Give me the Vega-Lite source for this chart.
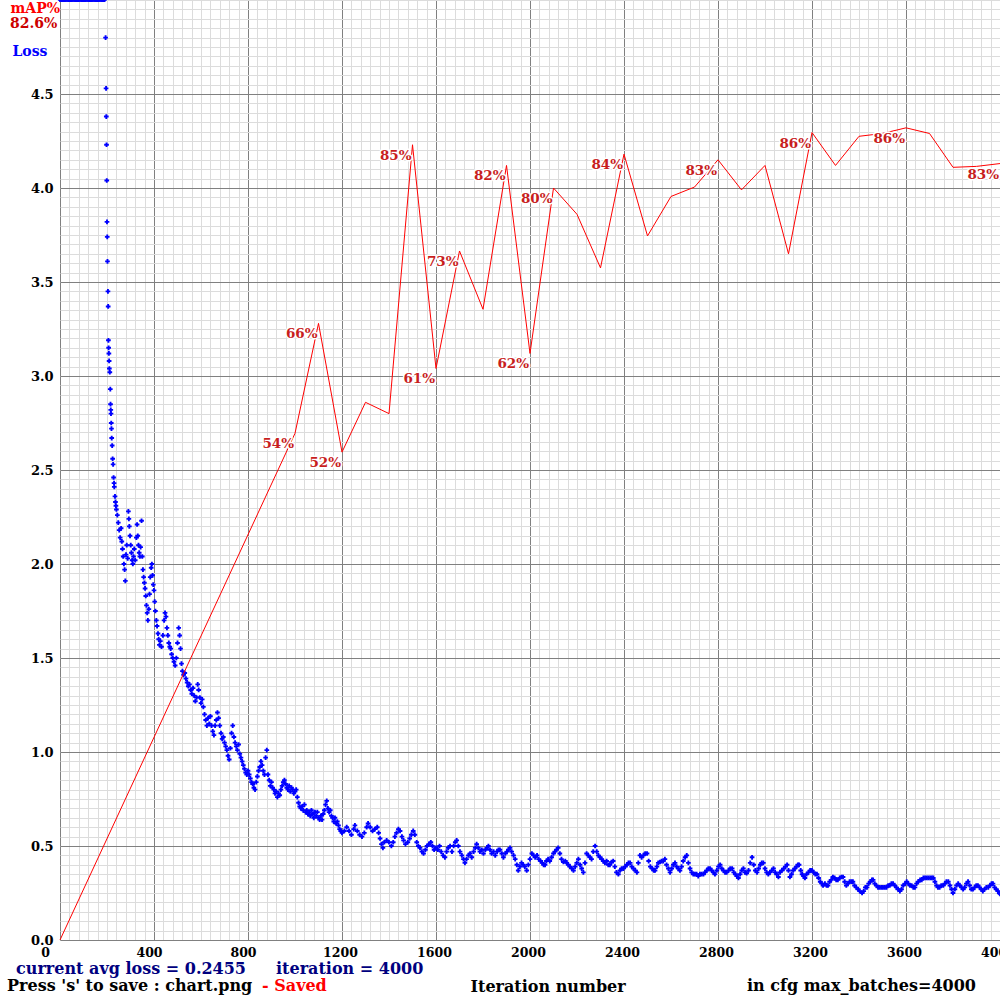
{
"$schema": "https://vega.github.io/schema/vega-lite/v6.json",
"width": 940,
"height": 940,
"autosize": {"type": "none"},
"padding": {"left": 60, "top": 0, "right": 0, "bottom": 60},
"background": "white",
"config": {"view": {"stroke": null}},
"datasets": {
"loss_top": [
{"iter":0,"loss":5.0},{"iter":5,"loss":5.0},{"iter":10,"loss":5.0},{"iter":15,"loss":5.0},{"iter":20,"loss":5.0},{"iter":25,"loss":5.0},{"iter":30,"loss":5.0},{"iter":35,"loss":5.0},{"iter":40,"loss":5.0},{"iter":45,"loss":5.0},{"iter":50,"loss":5.0},{"iter":55,"loss":5.0},{"iter":60,"loss":5.0},{"iter":65,"loss":5.0},{"iter":70,"loss":5.0},{"iter":75,"loss":5.0},{"iter":80,"loss":5.0},{"iter":85,"loss":5.0},{"iter":90,"loss":5.0},{"iter":95,"loss":5.0},{"iter":100,"loss":5.0},{"iter":105,"loss":5.0},{"iter":110,"loss":5.0},{"iter":115,"loss":5.0},{"iter":120,"loss":5.0},{"iter":125,"loss":5.0},{"iter":130,"loss":5.0},{"iter":135,"loss":5.0},{"iter":140,"loss":5.0},{"iter":145,"loss":5.0},{"iter":150,"loss":5.0},{"iter":155,"loss":5.0},{"iter":160,"loss":5.0},{"iter":165,"loss":5.0},{"iter":170,"loss":5.0},{"iter":175,"loss":5.0},{"iter":180,"loss":5.0},{"iter":185,"loss":5.0},{"iter":190,"loss":5.0}
],
"loss": [
{"iter":194,"loss":4.80},{"iter":196,"loss":4.53},{"iter":197,"loss":4.38},{"iter":198,"loss":4.23},{"iter":199,"loss":4.04},{"iter":200,"loss":3.82},{"iter":201,"loss":3.74},{"iter":202,"loss":3.61},{"iter":204,"loss":3.45},{"iter":205,"loss":3.37},{"iter":206,"loss":3.19},{"iter":207,"loss":3.15},{"iter":208,"loss":3.12},{"iter":209,"loss":3.08},{"iter":210,"loss":3.04},{"iter":212,"loss":3.02},{"iter":214,"loss":2.93},{"iter":215,"loss":2.85},{"iter":216,"loss":2.82},{"iter":217,"loss":2.80},{"iter":218,"loss":2.75},{"iter":219,"loss":2.72},{"iter":220,"loss":2.67},{"iter":222,"loss":2.63},{"iter":224,"loss":2.56},{"iter":226,"loss":2.53},{"iter":228,"loss":2.46},{"iter":230,"loss":2.43},{"iter":231,"loss":2.41},{"iter":234,"loss":2.36},{"iter":236,"loss":2.33},{"iter":238,"loss":2.31},{"iter":240,"loss":2.29},{"iter":244,"loss":2.26},{"iter":248,"loss":2.22},{"iter":252,"loss":2.18},{"iter":256,"loss":2.14},{"iter":260,"loss":2.19},{"iter":263,"loss":2.12},{"iter":266,"loss":2.08},{"iter":269,"loss":2.04},{"iter":272,"loss":2.00},{"iter":275,"loss":1.97},{"iter":278,"loss":1.91},{"iter":281,"loss":2.05},{"iter":284,"loss":2.10},{"iter":288,"loss":2.03},{"iter":291,"loss":2.28},{"iter":293,"loss":2.24},{"iter":295,"loss":2.20},{"iter":298,"loss":2.15},{"iter":301,"loss":2.10},{"iter":304,"loss":2.06},{"iter":307,"loss":2.02},{"iter":310,"loss":2.00},{"iter":313,"loss":2.04},{"iter":316,"loss":2.08},{"iter":320,"loss":2.02},{"iter":325,"loss":2.14},{"iter":328,"loss":2.21},{"iter":331,"loss":2.15},{"iter":334,"loss":2.10},{"iter":337,"loss":2.06},{"iter":340,"loss":2.04},{"iter":343,"loss":2.09},{"iter":347,"loss":2.23},{"iter":350,"loss":2.04},{"iter":353,"loss":1.97},{"iter":356,"loss":1.93},{"iter":359,"loss":1.90},{"iter":362,"loss":1.87},{"iter":365,"loss":1.83},{"iter":368,"loss":1.78},{"iter":371,"loss":1.74},{"iter":374,"loss":1.70},{"iter":378,"loss":1.76},{"iter":381,"loss":1.84},{"iter":384,"loss":1.93},{"iter":388,"loss":1.98},{"iter":391,"loss":2.00},{"iter":394,"loss":1.94},{"iter":397,"loss":1.89},{"iter":400,"loss":1.86},{"iter":403,"loss":1.80},{"iter":406,"loss":1.75},{"iter":410,"loss":1.70},{"iter":413,"loss":1.67},{"iter":417,"loss":1.63},{"iter":420,"loss":1.60},{"iter":423,"loss":1.57},{"iter":427,"loss":1.59},{"iter":432,"loss":1.56},{"iter":438,"loss":1.62},{"iter":443,"loss":1.70},{"iter":447,"loss":1.74},{"iter":451,"loss":1.72},{"iter":455,"loss":1.66},{"iter":459,"loss":1.62},{"iter":463,"loss":1.58},{"iter":467,"loss":1.56},{"iter":471,"loss":1.55},{"iter":475,"loss":1.52},{"iter":480,"loss":1.50},{"iter":485,"loss":1.48},{"iter":490,"loss":1.46},{"iter":495,"loss":1.50},{"iter":500,"loss":1.58},{"iter":505,"loss":1.66},{"iter":509,"loss":1.62},{"iter":513,"loss":1.55},{"iter":517,"loss":1.47},{"iter":521,"loss":1.43},{"iter":526,"loss":1.41},{"iter":531,"loss":1.42},{"iter":536,"loss":1.39},{"iter":541,"loss":1.37},{"iter":546,"loss":1.35},{"iter":551,"loss":1.36},{"iter":556,"loss":1.33},{"iter":561,"loss":1.31},{"iter":566,"loss":1.34},{"iter":571,"loss":1.30},{"iter":576,"loss":1.27},{"iter":581,"loss":1.29},{"iter":586,"loss":1.36},{"iter":590,"loss":1.33},{"iter":595,"loss":1.29},{"iter":600,"loss":1.26},{"iter":605,"loss":1.28},{"iter":610,"loss":1.24},{"iter":615,"loss":1.20},{"iter":620,"loss":1.17},{"iter":625,"loss":1.14},{"iter":630,"loss":1.18},{"iter":635,"loss":1.15},{"iter":640,"loss":1.19},{"iter":645,"loss":1.14},{"iter":650,"loss":1.11},{"iter":655,"loss":1.09},{"iter":660,"loss":1.14},{"iter":665,"loss":1.17},{"iter":670,"loss":1.21},{"iter":675,"loss":1.18},{"iter":680,"loss":1.14},{"iter":685,"loss":1.10},{"iter":690,"loss":1.07},{"iter":695,"loss":1.08},{"iter":700,"loss":1.05},{"iter":705,"loss":1.03},{"iter":710,"loss":1.01},{"iter":715,"loss":0.98},{"iter":720,"loss":0.96},{"iter":725,"loss":1.02},{"iter":730,"loss":1.10},{"iter":735,"loss":1.14},{"iter":740,"loss":1.08},{"iter":745,"loss":1.05},{"iter":750,"loss":1.03},{"iter":755,"loss":1.01},{"iter":760,"loss":1.04},{"iter":765,"loss":0.99},{"iter":770,"loss":0.97},{"iter":775,"loss":0.95},{"iter":780,"loss":0.93},{"iter":785,"loss":0.91},{"iter":790,"loss":0.89},{"iter":795,"loss":0.88},{"iter":800,"loss":0.90},{"iter":805,"loss":0.88},{"iter":810,"loss":0.86},{"iter":815,"loss":0.84},{"iter":820,"loss":0.83},{"iter":825,"loss":0.81},{"iter":830,"loss":0.80},{"iter":835,"loss":0.84},{"iter":840,"loss":0.87},{"iter":845,"loss":0.90},{"iter":850,"loss":0.92},{"iter":855,"loss":0.95},{"iter":860,"loss":0.93},{"iter":865,"loss":0.90},{"iter":870,"loss":0.88},{"iter":875,"loss":0.97},{"iter":880,"loss":1.01},{"iter":885,"loss":0.88},{"iter":890,"loss":0.85},{"iter":895,"loss":0.82},{"iter":900,"loss":0.84},{"iter":905,"loss":0.81},{"iter":910,"loss":0.80},{"iter":915,"loss":0.78},{"iter":920,"loss":0.79},{"iter":925,"loss":0.76},{"iter":930,"loss":0.78},{"iter":935,"loss":0.77},{"iter":940,"loss":0.80},{"iter":945,"loss":0.82},{"iter":950,"loss":0.84},{"iter":955,"loss":0.85},{"iter":960,"loss":0.83},{"iter":965,"loss":0.81},{"iter":970,"loss":0.80},{"iter":975,"loss":0.82},{"iter":980,"loss":0.79},{"iter":985,"loss":0.81},{"iter":990,"loss":0.80},{"iter":995,"loss":0.78},{"iter":1000,"loss":0.79},{"iter":1005,"loss":0.80},{"iter":1010,"loss":0.76},{"iter":1015,"loss":0.73},{"iter":1020,"loss":0.71},{"iter":1025,"loss":0.70},{"iter":1030,"loss":0.71},{"iter":1035,"loss":0.69},{"iter":1040,"loss":0.72},{"iter":1045,"loss":0.68},{"iter":1050,"loss":0.69},{"iter":1055,"loss":0.67},{"iter":1060,"loss":0.68},{"iter":1065,"loss":0.66},{"iter":1070,"loss":0.69},{"iter":1075,"loss":0.67},{"iter":1080,"loss":0.65},{"iter":1085,"loss":0.68},{"iter":1090,"loss":0.66},{"iter":1095,"loss":0.68},{"iter":1100,"loss":0.65},{"iter":1105,"loss":0.64},{"iter":1110,"loss":0.66},{"iter":1115,"loss":0.64},{"iter":1120,"loss":0.67},{"iter":1125,"loss":0.69},{"iter":1130,"loss":0.72},{"iter":1135,"loss":0.74},{"iter":1140,"loss":0.70},{"iter":1145,"loss":0.68},{"iter":1150,"loss":0.69},{"iter":1155,"loss":0.66},{"iter":1160,"loss":0.65},{"iter":1165,"loss":0.63},{"iter":1170,"loss":0.65},{"iter":1175,"loss":0.62},{"iter":1180,"loss":0.63},{"iter":1185,"loss":0.61},{"iter":1190,"loss":0.59},{"iter":1195,"loss":0.58},{"iter":1200,"loss":0.57},{"iter":1210,"loss":0.58},{"iter":1220,"loss":0.60},{"iter":1230,"loss":0.58},{"iter":1240,"loss":0.56},{"iter":1250,"loss":0.59},{"iter":1255,"loss":0.61},{"iter":1265,"loss":0.58},{"iter":1275,"loss":0.56},{"iter":1285,"loss":0.55},{"iter":1295,"loss":0.57},{"iter":1305,"loss":0.60},{"iter":1311,"loss":0.62},{"iter":1320,"loss":0.60},{"iter":1330,"loss":0.58},{"iter":1340,"loss":0.59},{"iter":1350,"loss":0.60},{"iter":1356,"loss":0.57},{"iter":1362,"loss":0.54},{"iter":1368,"loss":0.51},{"iter":1374,"loss":0.49},{"iter":1380,"loss":0.52},{"iter":1390,"loss":0.53},{"iter":1400,"loss":0.52},{"iter":1410,"loss":0.50},{"iter":1418,"loss":0.52},{"iter":1425,"loss":0.55},{"iter":1432,"loss":0.57},{"iter":1440,"loss":0.59},{"iter":1447,"loss":0.58},{"iter":1455,"loss":0.55},{"iter":1462,"loss":0.53},{"iter":1470,"loss":0.51},{"iter":1480,"loss":0.52},{"iter":1488,"loss":0.54},{"iter":1495,"loss":0.56},{"iter":1503,"loss":0.58},{"iter":1510,"loss":0.56},{"iter":1518,"loss":0.52},{"iter":1525,"loss":0.50},{"iter":1532,"loss":0.49},{"iter":1540,"loss":0.47},{"iter":1547,"loss":0.46},{"iter":1555,"loss":0.48},{"iter":1562,"loss":0.50},{"iter":1570,"loss":0.51},{"iter":1578,"loss":0.52},{"iter":1585,"loss":0.50},{"iter":1592,"loss":0.48},{"iter":1600,"loss":0.49},{"iter":1608,"loss":0.48},{"iter":1615,"loss":0.50},{"iter":1622,"loss":0.47},{"iter":1630,"loss":0.45},{"iter":1638,"loss":0.44},{"iter":1645,"loss":0.47},{"iter":1652,"loss":0.49},{"iter":1660,"loss":0.50},{"iter":1668,"loss":0.47},{"iter":1675,"loss":0.50},{"iter":1682,"loss":0.52},{"iter":1688,"loss":0.53},{"iter":1695,"loss":0.50},{"iter":1702,"loss":0.47},{"iter":1710,"loss":0.45},{"iter":1717,"loss":0.43},{"iter":1723,"loss":0.41},{"iter":1730,"loss":0.43},{"iter":1738,"loss":0.45},{"iter":1745,"loss":0.46},{"iter":1752,"loss":0.44},{"iter":1760,"loss":0.47},{"iter":1767,"loss":0.49},{"iter":1773,"loss":0.51},{"iter":1780,"loss":0.49},{"iter":1787,"loss":0.47},{"iter":1795,"loss":0.48},{"iter":1802,"loss":0.46},{"iter":1810,"loss":0.48},{"iter":1817,"loss":0.49},{"iter":1823,"loss":0.50},{"iter":1830,"loss":0.48},{"iter":1837,"loss":0.46},{"iter":1845,"loss":0.47},{"iter":1852,"loss":0.45},{"iter":1860,"loss":0.47},{"iter":1866,"loss":0.48},{"iter":1872,"loss":0.48},{"iter":1880,"loss":0.46},{"iter":1887,"loss":0.44},{"iter":1895,"loss":0.46},{"iter":1902,"loss":0.47},{"iter":1908,"loss":0.48},{"iter":1915,"loss":0.49},{"iter":1922,"loss":0.47},{"iter":1930,"loss":0.45},{"iter":1937,"loss":0.43},{"iter":1944,"loss":0.40},{"iter":1950,"loss":0.37},{"iter":1957,"loss":0.39},{"iter":1964,"loss":0.41},{"iter":1971,"loss":0.40},{"iter":1978,"loss":0.39},{"iter":1986,"loss":0.37},{"iter":1993,"loss":0.40},{"iter":2000,"loss":0.43},{"iter":2008,"loss":0.46},{"iter":2015,"loss":0.45},{"iter":2022,"loss":0.44},{"iter":2030,"loss":0.45},{"iter":2037,"loss":0.43},{"iter":2045,"loss":0.42},{"iter":2052,"loss":0.41},{"iter":2058,"loss":0.40},{"iter":2064,"loss":0.40},{"iter":2070,"loss":0.42},{"iter":2077,"loss":0.43},{"iter":2084,"loss":0.42},{"iter":2092,"loss":0.44},{"iter":2100,"loss":0.46},{"iter":2106,"loss":0.47},{"iter":2113,"loss":0.48},{"iter":2120,"loss":0.49},{"iter":2127,"loss":0.46},{"iter":2134,"loss":0.43},{"iter":2142,"loss":0.415},{"iter":2150,"loss":0.42},{"iter":2156,"loss":0.41},{"iter":2163,"loss":0.40},{"iter":2170,"loss":0.39},{"iter":2178,"loss":0.38},{"iter":2185,"loss":0.37},{"iter":2192,"loss":0.39},{"iter":2199,"loss":0.41},{"iter":2206,"loss":0.43},{"iter":2213,"loss":0.40},{"iter":2220,"loss":0.38},{"iter":2227,"loss":0.36},{"iter":2234,"loss":0.41},{"iter":2241,"loss":0.46},{"iter":2248,"loss":0.45},{"iter":2255,"loss":0.44},{"iter":2262,"loss":0.43},{"iter":2269,"loss":0.47},{"iter":2277,"loss":0.50},{"iter":2284,"loss":0.47},{"iter":2291,"loss":0.45},{"iter":2298,"loss":0.44},{"iter":2305,"loss":0.43},{"iter":2312,"loss":0.42},{"iter":2319,"loss":0.41},{"iter":2326,"loss":0.42},{"iter":2333,"loss":0.40},{"iter":2340,"loss":0.40},{"iter":2347,"loss":0.415},{"iter":2354,"loss":0.42},{"iter":2361,"loss":0.39},{"iter":2368,"loss":0.36},{"iter":2376,"loss":0.35},{"iter":2383,"loss":0.37},{"iter":2390,"loss":0.38},{"iter":2397,"loss":0.38},{"iter":2405,"loss":0.39},{"iter":2412,"loss":0.40},{"iter":2419,"loss":0.41},{"iter":2426,"loss":0.41},{"iter":2433,"loss":0.39},{"iter":2440,"loss":0.38},{"iter":2448,"loss":0.37},{"iter":2455,"loss":0.36},{"iter":2461,"loss":0.41},{"iter":2468,"loss":0.45},{"iter":2475,"loss":0.44},{"iter":2483,"loss":0.45},{"iter":2490,"loss":0.46},{"iter":2498,"loss":0.46},{"iter":2505,"loss":0.42},{"iter":2512,"loss":0.39},{"iter":2520,"loss":0.38},{"iter":2527,"loss":0.37},{"iter":2532,"loss":0.37},{"iter":2540,"loss":0.39},{"iter":2546,"loss":0.41},{"iter":2553,"loss":0.415},{"iter":2560,"loss":0.42},{"iter":2567,"loss":0.42},{"iter":2574,"loss":0.43},{"iter":2581,"loss":0.40},{"iter":2589,"loss":0.38},{"iter":2596,"loss":0.36},{"iter":2603,"loss":0.38},{"iter":2610,"loss":0.40},{"iter":2617,"loss":0.41},{"iter":2624,"loss":0.39},{"iter":2631,"loss":0.38},{"iter":2638,"loss":0.37},{"iter":2645,"loss":0.39},{"iter":2652,"loss":0.42},{"iter":2660,"loss":0.44},{"iter":2667,"loss":0.45},{"iter":2674,"loss":0.41},{"iter":2681,"loss":0.38},{"iter":2688,"loss":0.36},{"iter":2695,"loss":0.35},{"iter":2702,"loss":0.35},{"iter":2709,"loss":0.35},{"iter":2716,"loss":0.34},{"iter":2723,"loss":0.35},{"iter":2730,"loss":0.35},{"iter":2738,"loss":0.35},{"iter":2745,"loss":0.36},{"iter":2752,"loss":0.37},{"iter":2759,"loss":0.38},{"iter":2766,"loss":0.38},{"iter":2773,"loss":0.37},{"iter":2780,"loss":0.36},{"iter":2787,"loss":0.35},{"iter":2795,"loss":0.37},{"iter":2802,"loss":0.39},{"iter":2809,"loss":0.40},{"iter":2816,"loss":0.38},{"iter":2823,"loss":0.37},{"iter":2830,"loss":0.36},{"iter":2837,"loss":0.36},{"iter":2845,"loss":0.37},{"iter":2852,"loss":0.38},{"iter":2860,"loss":0.38},{"iter":2867,"loss":0.36},{"iter":2874,"loss":0.35},{"iter":2880,"loss":0.34},{"iter":2887,"loss":0.33},{"iter":2894,"loss":0.35},{"iter":2901,"loss":0.37},{"iter":2908,"loss":0.38},{"iter":2915,"loss":0.36},{"iter":2922,"loss":0.355},{"iter":2930,"loss":0.37},{"iter":2937,"loss":0.41},{"iter":2945,"loss":0.44},{"iter":2952,"loss":0.40},{"iter":2959,"loss":0.37},{"iter":2966,"loss":0.36},{"iter":2973,"loss":0.38},{"iter":2980,"loss":0.40},{"iter":2986,"loss":0.41},{"iter":2993,"loss":0.41},{"iter":3000,"loss":0.38},{"iter":3007,"loss":0.36},{"iter":3014,"loss":0.35},{"iter":3021,"loss":0.36},{"iter":3029,"loss":0.37},{"iter":3036,"loss":0.38},{"iter":3043,"loss":0.36},{"iter":3050,"loss":0.35},{"iter":3057,"loss":0.335},{"iter":3064,"loss":0.36},{"iter":3072,"loss":0.37},{"iter":3080,"loss":0.38},{"iter":3087,"loss":0.39},{"iter":3094,"loss":0.40},{"iter":3100,"loss":0.37},{"iter":3106,"loss":0.335},{"iter":3113,"loss":0.35},{"iter":3120,"loss":0.37},{"iter":3127,"loss":0.38},{"iter":3134,"loss":0.39},{"iter":3140,"loss":0.40},{"iter":3145,"loss":0.40},{"iter":3152,"loss":0.37},{"iter":3158,"loss":0.35},{"iter":3164,"loss":0.34},{"iter":3170,"loss":0.33},{"iter":3177,"loss":0.35},{"iter":3185,"loss":0.36},{"iter":3192,"loss":0.37},{"iter":3200,"loss":0.37},{"iter":3207,"loss":0.36},{"iter":3214,"loss":0.35},{"iter":3221,"loss":0.35},{"iter":3228,"loss":0.33},{"iter":3235,"loss":0.31},{"iter":3242,"loss":0.30},{"iter":3247,"loss":0.29},{"iter":3255,"loss":0.30},{"iter":3262,"loss":0.29},{"iter":3268,"loss":0.29},{"iter":3275,"loss":0.31},{"iter":3282,"loss":0.32},{"iter":3289,"loss":0.335},{"iter":3296,"loss":0.33},{"iter":3303,"loss":0.32},{"iter":3310,"loss":0.32},{"iter":3318,"loss":0.33},{"iter":3325,"loss":0.335},{"iter":3332,"loss":0.335},{"iter":3339,"loss":0.31},{"iter":3346,"loss":0.29},{"iter":3353,"loss":0.30},{"iter":3360,"loss":0.31},{"iter":3367,"loss":0.31},{"iter":3374,"loss":0.31},{"iter":3381,"loss":0.29},{"iter":3388,"loss":0.28},{"iter":3396,"loss":0.27},{"iter":3403,"loss":0.26},{"iter":3413,"loss":0.25},{"iter":3420,"loss":0.26},{"iter":3427,"loss":0.28},{"iter":3434,"loss":0.28},{"iter":3441,"loss":0.30},{"iter":3448,"loss":0.31},{"iter":3455,"loss":0.32},{"iter":3460,"loss":0.32},{"iter":3467,"loss":0.30},{"iter":3474,"loss":0.29},{"iter":3481,"loss":0.28},{"iter":3488,"loss":0.28},{"iter":3495,"loss":0.28},{"iter":3502,"loss":0.28},{"iter":3510,"loss":0.28},{"iter":3517,"loss":0.28},{"iter":3524,"loss":0.29},{"iter":3531,"loss":0.29},{"iter":3538,"loss":0.30},{"iter":3545,"loss":0.30},{"iter":3552,"loss":0.29},{"iter":3559,"loss":0.28},{"iter":3566,"loss":0.27},{"iter":3574,"loss":0.26},{"iter":3581,"loss":0.27},{"iter":3588,"loss":0.29},{"iter":3596,"loss":0.30},{"iter":3603,"loss":0.31},{"iter":3610,"loss":0.30},{"iter":3617,"loss":0.29},{"iter":3624,"loss":0.29},{"iter":3631,"loss":0.28},{"iter":3638,"loss":0.28},{"iter":3645,"loss":0.30},{"iter":3652,"loss":0.31},{"iter":3660,"loss":0.32},{"iter":3667,"loss":0.32},{"iter":3674,"loss":0.33},{"iter":3681,"loss":0.33},{"iter":3689,"loss":0.33},{"iter":3696,"loss":0.33},{"iter":3703,"loss":0.33},{"iter":3710,"loss":0.33},{"iter":3716,"loss":0.33},{"iter":3723,"loss":0.31},{"iter":3730,"loss":0.29},{"iter":3736,"loss":0.28},{"iter":3743,"loss":0.28},{"iter":3750,"loss":0.29},{"iter":3758,"loss":0.29},{"iter":3765,"loss":0.30},{"iter":3772,"loss":0.31},{"iter":3780,"loss":0.31},{"iter":3787,"loss":0.29},{"iter":3794,"loss":0.27},{"iter":3800,"loss":0.25},{"iter":3808,"loss":0.27},{"iter":3815,"loss":0.29},{"iter":3822,"loss":0.30},{"iter":3829,"loss":0.29},{"iter":3836,"loss":0.28},{"iter":3843,"loss":0.27},{"iter":3850,"loss":0.28},{"iter":3857,"loss":0.30},{"iter":3864,"loss":0.31},{"iter":3871,"loss":0.29},{"iter":3878,"loss":0.27},{"iter":3885,"loss":0.27},{"iter":3892,"loss":0.28},{"iter":3899,"loss":0.29},{"iter":3906,"loss":0.29},{"iter":3913,"loss":0.28},{"iter":3920,"loss":0.27},{"iter":3927,"loss":0.26},{"iter":3934,"loss":0.27},{"iter":3942,"loss":0.28},{"iter":3950,"loss":0.28},{"iter":3957,"loss":0.29},{"iter":3964,"loss":0.30},{"iter":3970,"loss":0.30},{"iter":3977,"loss":0.28},{"iter":3984,"loss":0.27},{"iter":3991,"loss":0.26},{"iter":3997,"loss":0.25},{"iter":4000,"loss":0.2455}
],
"map": [
{"iter":0,"map":0},
{"iter":1000,"map":53.9,"label":"54%"},
{"iter":1100,"map":65.6,"label":"66%"},
{"iter":1200,"map":51.9,"label":"52%"},
{"iter":1300,"map":57.2},
{"iter":1400,"map":56.0},
{"iter":1500,"map":84.6,"label":"85%"},
{"iter":1600,"map":60.8,"label":"61%"},
{"iter":1700,"map":73.3,"label":"73%"},
{"iter":1800,"map":67.1},
{"iter":1900,"map":82.4,"label":"82%"},
{"iter":2000,"map":62.4,"label":"62%"},
{"iter":2100,"map":80.0,"label":"80%"},
{"iter":2200,"map":77.2},
{"iter":2300,"map":71.5},
{"iter":2400,"map":83.6,"label":"84%"},
{"iter":2500,"map":74.9},
{"iter":2600,"map":79.1},
{"iter":2700,"map":80.1},
{"iter":2800,"map":83.0,"label":"83%"},
{"iter":2900,"map":79.8},
{"iter":3000,"map":82.4},
{"iter":3100,"map":73.0},
{"iter":3200,"map":85.9,"label":"86%"},
{"iter":3300,"map":82.4},
{"iter":3400,"map":85.5},
{"iter":3500,"map":85.8},
{"iter":3600,"map":86.4,"label":"86%"},
{"iter":3700,"map":85.8},
{"iter":3800,"map":82.2},
{"iter":3900,"map":82.3},
{"iter":4000,"map":82.6,"label":"83%"}
]
},
"resolve": {"scale": {"y": "independent"}, "axis": {"x": "independent", "y": "independent"}},
"layer": [
{
"data": {"name": "loss_top"},
"mark": {"type": "point", "shape": "cross", "filled": true, "size": 18, "color": "#0000ff", "opacity": 1},
"encoding": {
"x": {"field": "iter", "type": "quantitative", "scale": {"domain": [0, 4000], "nice": false, "zero": false},
"axis": {"orient": "top", "values": [0,40,80,120,160,200,240,280,320,360,400,440,480,520,560,600,640,680,720,760,800,840,880,920,960,1000,1040,1080,1120,1160,1200,1240,1280,1320,1360,1400,1440,1480,1520,1560,1600,1640,1680,1720,1760,1800,1840,1880,1920,1960,2000,2040,2080,2120,2160,2200,2240,2280,2320,2360,2400,2440,2480,2520,2560,2600,2640,2680,2720,2760,2800,2840,2880,2920,2960,3000,3040,3080,3120,3160,3200,3240,3280,3320,3360,3400,3440,3480,3520,3560,3600,3640,3680,3720,3760,3800,3840,3880,3920,3960,4000], "labels": false, "ticks": false, "domain": false, "grid": true, "gridColor": "#dcdcdc", "gridWidth": 1, "title": null}},
"y": {"field": "loss", "type": "quantitative", "scale": {"domain": [0, 5], "nice": false, "zero": false},
"axis": {"orient": "right", "values": [0,0.05,0.1,0.15,0.2,0.25,0.3,0.35,0.4,0.45,0.5,0.55,0.6,0.65,0.7,0.75,0.8,0.85,0.9,0.95,1,1.05,1.1,1.15,1.2,1.25,1.3,1.35,1.4,1.45,1.5,1.55,1.6,1.65,1.7,1.75,1.8,1.85,1.9,1.95,2,2.05,2.1,2.15,2.2,2.25,2.3,2.35,2.4,2.45,2.5,2.55,2.6,2.65,2.7,2.75,2.8,2.85,2.9,2.95,3,3.05,3.1,3.15,3.2,3.25,3.3,3.35,3.4,3.45,3.5,3.55,3.6,3.65,3.7,3.75,3.8,3.85,3.9,3.95,4,4.05,4.1,4.15,4.2,4.25,4.3,4.35,4.4,4.45,4.5,4.55,4.6,4.65,4.7,4.75,4.8,4.85,4.9,4.95,5], "labels": false, "ticks": false, "domain": false, "grid": true, "gridColor": "#dcdcdc", "gridWidth": 1, "title": null}}
}
},
{
"data": {"name": "loss"},
"mark": {"type": "point", "shape": "cross", "filled": true, "size": 22, "color": "#0000ff", "opacity": 1},
"encoding": {
"x": {"field": "iter", "type": "quantitative", "scale": {"domain": [0, 4000], "nice": false, "zero": false}, "axis": null},
"y": {"field": "loss", "type": "quantitative", "scale": {"domain": [0, 5], "nice": false, "zero": false},
"axis": {"orient": "left", "values": [0,0.5,1,1.5,2,2.5,3,3.5,4,4.5], "format": ".1f", "grid": true, "gridColor": "#808080", "gridWidth": 1, "domain": false, "ticks": false, "labelPadding": 7, "labelFont": "DejaVu Serif", "labelFontWeight": "bold", "labelFontSize": 13, "labelColor": "#000000", "labelOverlap": false, "labelFlush": false, "labelBound": false,
"title": "Loss", "titleColor": "#0000ff", "titleFont": "DejaVu Serif", "titleFontWeight": "bold", "titleFontSize": 14, "titleAngle": 0, "titleAlign": "left", "titleBaseline": "middle", "titleX": -48, "titleY": 51}}
}
},
{
"data": {"name": "map"},
"mark": {"type": "line", "color": "#ff0000", "strokeWidth": 1},
"encoding": {
"x": {"field": "iter", "type": "quantitative", "scale": {"domain": [0, 4000], "nice": false, "zero": false},
"axis": {"orient": "bottom", "values": [0,400,800,1200,1600,2000,2400,2800,3200,3600,4000], "format": "d", "grid": true, "gridColor": "#808080", "gridWidth": 1, "domain": false, "ticks": false, "labelFont": "DejaVu Serif", "labelFontWeight": "bold", "labelFontSize": 12.5, "labelColor": "#000000", "labelPadding": 6, "labelOffset": {"expr": "datum.value == 0 ? -15 : (datum.value < 1000 ? -5 : -2)"}, "labelOverlap": false, "labelFlush": false, "labelBound": false,
"title": "Iteration number", "titleX": 410, "titleY": 46, "titleAlign": "left", "titleBaseline": "middle", "titleFont": "DejaVu Serif", "titleFontWeight": "bold", "titleFontSize": 16, "titleColor": "#000000"}},
"y": {"field": "map", "type": "quantitative", "scale": {"domain": [0, 100], "nice": false, "zero": false},
"axis": {"orient": "right", "grid": false, "labels": false, "ticks": false, "domain": false, "title": "mAP%", "titleColor": "#ff0000", "titleFont": "DejaVu Serif", "titleFontWeight": "bold", "titleFontSize": 14, "titleAngle": 0, "titleAlign": "left", "titleBaseline": "middle", "titleX": -990, "titleY": 8}}
}
},
{
"data": {"name": "map"},
"transform": [{"filter": "isValid(datum.label)"}],
"mark": {"type": "text", "align": "right", "baseline": "middle", "dx": -1, "dy": 11, "font": "DejaVu Serif", "fontWeight": "bold", "fontSize": 13.5, "fill": "#ffffff", "stroke": "#ffffff", "strokeWidth": 3, "strokeJoin": "round"},
"encoding": {
"x": {"field": "iter", "type": "quantitative", "scale": {"domain": [0, 4000], "nice": false, "zero": false}, "axis": null},
"y": {"field": "map", "type": "quantitative", "scale": {"domain": [0, 100], "nice": false, "zero": false}, "axis": null},
"text": {"field": "label"}
}
},
{
"data": {"name": "map"},
"transform": [{"filter": "isValid(datum.label)"}],
"mark": {"type": "text", "align": "right", "baseline": "middle", "dx": -1, "dy": 11, "font": "DejaVu Serif", "fontWeight": "bold", "fontSize": 13.5, "color": "#c81e1e"},
"encoding": {
"x": {"field": "iter", "type": "quantitative", "scale": {"domain": [0, 4000], "nice": false, "zero": false}, "axis": null},
"y": {"field": "map", "type": "quantitative", "scale": {"domain": [0, 100], "nice": false, "zero": false}, "axis": null},
"text": {"field": "label"}
}
},
{
"data": {"values": [{}]},
"mark": {"type": "text", "text": "82.6%", "align": "left", "baseline": "middle", "font": "DejaVu Serif", "fontWeight": "bold", "fontSize": 14, "color": "#cc0000"},
"encoding": {
"x": {"datum": -212.8, "type": "quantitative", "scale": {"domain": [0, 4000], "nice": false, "zero": false}, "axis": null},
"y": {"datum": 4.875, "type": "quantitative", "scale": {"domain": [0, 5], "nice": false, "zero": false}, "axis": null}
}
},
{
"data": {"values": [{}]},
"mark": {"type": "text", "text": "current avg loss = 0.2455", "align": "left", "baseline": "middle", "font": "DejaVu Serif", "fontWeight": "bold", "fontSize": 16, "color": "#000080"},
"encoding": {
"x": {"datum": -187.2, "type": "quantitative", "scale": {"domain": [0, 4000], "nice": false, "zero": false}, "axis": null},
"y": {"datum": -0.154, "type": "quantitative", "scale": {"domain": [0, 5], "nice": false, "zero": false}, "axis": null}
}
},
{
"data": {"values": [{}]},
"mark": {"type": "text", "text": "iteration = 4000", "align": "left", "baseline": "middle", "font": "DejaVu Serif", "fontWeight": "bold", "fontSize": 16, "color": "#000080"},
"encoding": {
"x": {"datum": 919.1, "type": "quantitative", "scale": {"domain": [0, 4000], "nice": false, "zero": false}, "axis": null},
"y": {"datum": -0.154, "type": "quantitative", "scale": {"domain": [0, 5], "nice": false, "zero": false}, "axis": null}
}
},
{
"data": {"values": [{}]},
"mark": {"type": "text", "text": "Press 's' to save : chart.png", "align": "left", "baseline": "middle", "font": "DejaVu Serif", "fontWeight": "bold", "fontSize": 16, "color": "#000000"},
"encoding": {
"x": {"datum": -225.5, "type": "quantitative", "scale": {"domain": [0, 4000], "nice": false, "zero": false}, "axis": null},
"y": {"datum": -0.245, "type": "quantitative", "scale": {"domain": [0, 5], "nice": false, "zero": false}, "axis": null}
}
},
{
"data": {"values": [{}]},
"mark": {"type": "text", "text": "- Saved", "align": "left", "baseline": "middle", "font": "DejaVu Serif", "fontWeight": "bold", "fontSize": 16, "color": "#ff0000"},
"encoding": {
"x": {"datum": 859.6, "type": "quantitative", "scale": {"domain": [0, 4000], "nice": false, "zero": false}, "axis": null},
"y": {"datum": -0.245, "type": "quantitative", "scale": {"domain": [0, 5], "nice": false, "zero": false}, "axis": null}
}
},
{
"data": {"values": [{}]},
"mark": {"type": "text", "text": "in cfg max_batches=4000", "align": "left", "baseline": "middle", "font": "DejaVu Serif", "fontWeight": "bold", "fontSize": 16, "color": "#000000"},
"encoding": {
"x": {"datum": 2923.4, "type": "quantitative", "scale": {"domain": [0, 4000], "nice": false, "zero": false}, "axis": null},
"y": {"datum": -0.245, "type": "quantitative", "scale": {"domain": [0, 5], "nice": false, "zero": false}, "axis": null}
}
}
]
}
